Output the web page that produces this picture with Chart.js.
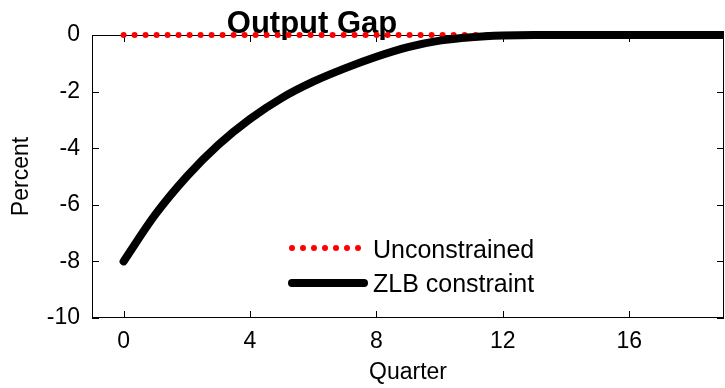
<!DOCTYPE html>
<html lang="en">
<head>
    <meta charset="UTF-8">
    <title>Output Gap</title>
    <style>
        body, html {
            margin: 0;
            padding: 0;
            background: #fff;
        }
        .chart-container {
            width: 725px;
            height: 388px;
        }
    </style>
    <script src="https://cdn.jsdelivr.net/npm/chart.js"></script>
</head>
<body>
    <div class="chart-container">
        <canvas id="gapChart"></canvas>
    </div>

    <script>
        // quarters after the shock
        const quarters = [0, 1, 2, 3, 4, 5, 6, 7, 8, 9, 10, 11, 12, 13, 14, 15, 16, 17, 18, 19];
        const unconstrained = [0, 0, 0, 0, 0, 0, 0, 0, 0, 0, 0, 0, 0, 0, 0, 0, 0, 0, 0, 0];
        const zlbConstraint = [-8.0, -6.35, -5.0, -3.88, -2.97, -2.23, -1.65, -1.18, -0.77, -0.43, -0.2, -0.08, -0.02, 0, 0, 0, 0, 0, 0, 0];
        const xTicks = [0, 4, 8, 12, 16];
        const yTicks = [-10, -8, -6, -4, -2, 0];
        const yTickLabels = ['-10', '-8', '-6', '-4', '-2', '0'];

        const FONT = "'Liberation Sans', Arial, sans-serif";
        Chart.defaults.font.family = FONT;
        Chart.defaults.font.size = 23;
        Chart.defaults.color = '#000';

        const toPoints = (ys) => quarters.map((q, i) => ({ x: q, y: ys[i] }));

        // box around the plot with inward ticks, title, and legend inside the plot
        const matlabLook = {
            id: 'matlabLook',
            beforeDatasetsDraw(chart) {
                const { ctx, chartArea: a, scales: { x, y } } = chart;
                ctx.save();
                ctx.font = 'bold 31px ' + FONT;
                ctx.fillStyle = '#000';
                ctx.textAlign = 'center';
                ctx.textBaseline = 'alphabetic';
                ctx.fillText('Output Gap', 312, 33);

                ctx.strokeStyle = '#000';
                ctx.lineWidth = 1;
                ctx.strokeRect(a.left + 0.5, a.top + 0.5, a.right - a.left - 1, a.bottom - a.top - 1);
                const tl = 7;
                ctx.beginPath();
                xTicks.forEach(v => {
                    const px = Math.round(x.getPixelForValue(v)) + 0.5;
                    ctx.moveTo(px, a.bottom); ctx.lineTo(px, a.bottom - tl);
                    ctx.moveTo(px, a.top); ctx.lineTo(px, a.top + tl);
                });
                yTicks.forEach(v => {
                    const py = Math.round(y.getPixelForValue(v)) + 0.5;
                    ctx.moveTo(a.left, py); ctx.lineTo(a.left + tl, py);
                    ctx.moveTo(a.right, py); ctx.lineTo(a.right - tl, py);
                });
                ctx.stroke();
                ctx.restore();
            },
            afterDatasetsDraw(chart) {
                const { ctx } = chart;
                const ds = chart.data.datasets;
                ctx.save();
                // Unconstrained sample
                ctx.strokeStyle = ds[0].borderColor;
                ctx.lineWidth = ds[0].borderWidth;
                ctx.lineCap = 'round';
                ctx.setLineDash([0, 11]);
                ctx.beginPath();
                ctx.moveTo(292, 248); ctx.lineTo(360, 248);
                ctx.stroke();
                // ZLB sample
                ctx.setLineDash([]);
                ctx.strokeStyle = ds[1].borderColor;
                ctx.lineWidth = ds[1].borderWidth;
                ctx.beginPath();
                ctx.moveTo(292, 283); ctx.lineTo(364, 283);
                ctx.stroke();
                ctx.fillStyle = '#000';
                ctx.font = '25px ' + FONT;
                ctx.textAlign = 'left';
                ctx.textBaseline = 'middle';
                ctx.fillText(ds[0].label, 373, 251);
                ctx.fillText(ds[1].label, 373, 285);
                ctx.restore();
            }
        };

        const ctx = document.getElementById('gapChart').getContext('2d');

        new Chart(ctx, {
            type: 'line',
            data: {
                datasets: [{
                    label: 'Unconstrained',
                    data: toPoints(unconstrained),
                    borderColor: '#ff0000',
                    borderWidth: 6,
                    borderDash: [0, 11],
                    borderCapStyle: 'round',
                    pointRadius: 0,
                    clip: false,
                    order: 2
                }, {
                    label: 'ZLB constraint',
                    data: toPoints(zlbConstraint),
                    borderColor: '#000',
                    borderWidth: 8,
                    borderCapStyle: 'round',
                    borderJoinStyle: 'round',
                    pointRadius: 0,
                    cubicInterpolationMode: 'monotone',
                    clip: { left: 0, right: 0, top: 4, bottom: 0 },
                    order: 1
                }]
            },
            options: {
                responsive: true,
                maintainAspectRatio: false,
                animation: false,
                layout: { padding: { top: 35, right: 1, left: 0, bottom: 0 } },
                plugins: {
                    legend: { display: false },
                    tooltip: { enabled: false },
                    title: { display: false }
                },
                scales: {
                    x: {
                        type: 'linear',
                        min: -1,
                        max: 19,
                        grid: { display: false, drawTicks: false },
                        border: { display: false },
                        afterBuildTicks: s => { s.ticks = xTicks.map(v => ({ value: v })); },
                        afterFit: s => { s.height = 70; },
                        ticks: { padding: 10, maxRotation: 0 },
                        title: { display: true, text: 'Quarter', padding: { top: 0, bottom: 2 } }
                    },
                    y: {
                        min: -10,
                        max: 0,
                        grid: { display: false, drawTicks: false },
                        border: { display: false },
                        afterBuildTicks: s => { s.ticks = yTicks.map(v => ({ value: v })); },
                        afterFit: s => { s.width = 92; },
                        ticks: {
                            padding: 12,
                            callback: (value, i) => yTickLabels[i]
                        },
                        title: { display: true, text: 'Percent', padding: { top: 8, bottom: 0 } }
                    }
                }
            },
            plugins: [matlabLook]
        });
    </script>
</body>
</html>
